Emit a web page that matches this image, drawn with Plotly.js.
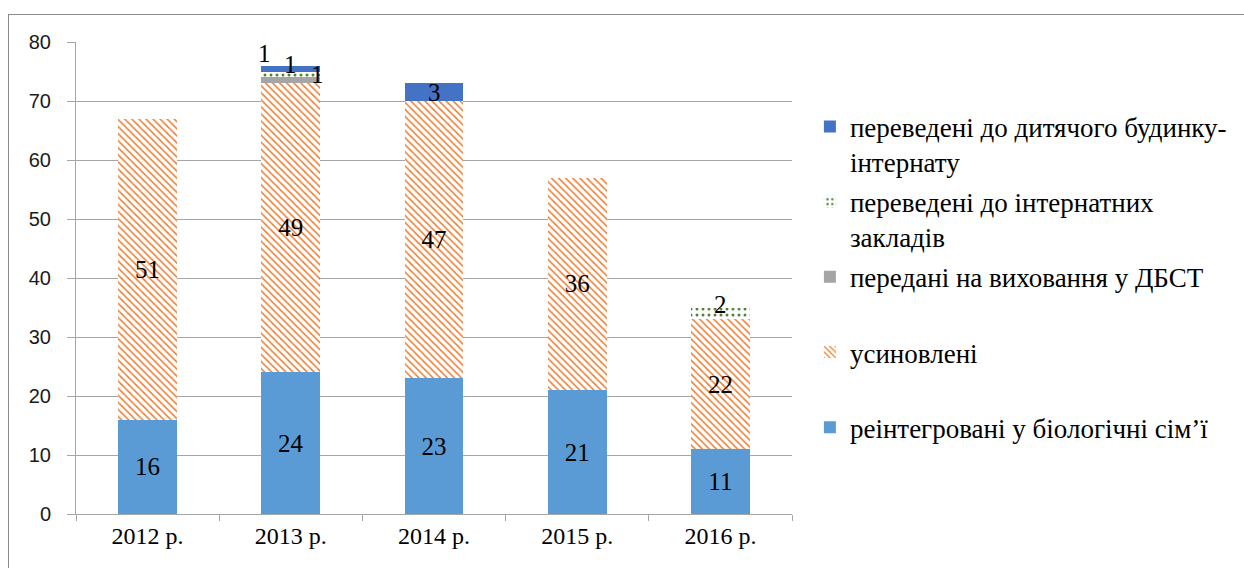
<!DOCTYPE html>
<html>
<head>
<meta charset="utf-8">
<script src="https://cdn.plot.ly/plotly-3.0.1.min.js"></script>
<style>
  html, body { margin: 0; padding: 0; background: #fff; }
  #wrap { position: relative; width: 1244px; height: 568px; overflow: hidden; }
  #chart { width: 1244px; height: 568px; }
  #frame { position: absolute; left: 8px; top: 14px; width: 1300px; height: 600px;
           border: 1px solid #8c8c8c; pointer-events: none; }
</style>
</head>
<body>
<div id="wrap">
  <div id="chart"></div>
  <div id="frame"></div>
</div>
<script>
const categories = ['2012 р.', '2013 р.', '2014 р.', '2015 р.', '2016 р.'];
const reintegrated = [16, 24, 23, 21, 11];
const adopted = [51, 49, 47, 36, 22];
const fosterDBST = [0, 1, 0, 0, 0];
const boardingSchools = [0, 1, 0, 0, 2];
const childrensHome = [0, 1, 3, 0, 0];

const NB = '\u00a0';
const names = {
  reint: 'реінтегровані у біологічні сім’ї<br>' + NB,
  adopt: 'усиновлені<br>' + NB,
  dbst: 'передані на виховання у ДБСТ<br>' + NB,
  board: 'переведені до інтернатних<br>закладів',
  home: 'переведені до дитячого будинку-<br>інтернату'
};

const serif = 'Liberation Serif';
const sans = 'Liberation Sans';
const lbl = v => v.map(x => x > 0 ? String(x) : '');

const traces = [
  { name: names.reint, y: reintegrated, marker: { color: '#5B9BD5' },
    text: lbl(reintegrated), textposition: 'inside', legendgroup: 'a', legendrank: 5 },
  { name: names.adopt, y: adopted,
    marker: { color: '#ffffff', pattern: { shape: '\\', fgcolor: '#ED7D31', bgcolor: '#ffffff', size: 5, solidity: 0.3 } },
    text: lbl(adopted), textposition: 'inside', legendgroup: 'b', legendrank: 4 },
  { name: names.dbst, y: fosterDBST, marker: { color: '#A5A5A5' }, textposition: 'none', legendgroup: 'c', legendrank: 3 },
  { name: names.board, y: boardingSchools,
    marker: { color: '#ffffff', pattern: { shape: '.', fgcolor: '#548235', bgcolor: '#ffffff', size: 6, solidity: 0.2 } },
    textposition: 'none', legendgroup: 'd', legendrank: 2 },
  { name: names.home, y: childrensHome, marker: { color: '#4472C4' }, textposition: 'none', legendgroup: 'e', legendrank: 1 }
].map(t => Object.assign({
  type: 'bar', x: categories, insidetextanchor: 'middle', textangle: 0, constraintext: 'none',
  insidetextfont: { family: serif, size: 25, color: '#000' }, hoverinfo: 'skip'
}, t));

// annotations for thin segments, positioned from cumulative data
const smallSeries = [fosterDBST, boardingSchools, childrensHome];
const shifts = [
  [[0,0],[27,6],[0,0],[0,0],[0,0]],
  [[0,0],[0,10],[0,0],[0,0],[0,9]],
  [[0,0],[-26,15],[0,0],[0,0],[0,0]]
];
const annotations = [];
categories.forEach((c, i) => {
  let base = reintegrated[i] + adopted[i];
  smallSeries.forEach((s, k) => {
    const v = s[i];
    if (v > 0) {
      annotations.push({ x: c, y: base + v / 2, text: String(v), showarrow: false,
        xshift: shifts[k][i][0], yshift: shifts[k][i][1],
        font: { family: serif, size: 25, color: '#000' } });
    }
    base += v;
  });
});

const layout = {
  width: 1244, height: 568,
  margin: { l: 76, r: 452, t: 42, b: 54 },
  barmode: 'stack', bargap: 0.59,
  paper_bgcolor: '#fff', plot_bgcolor: '#fff',
  showlegend: true,
  font: { family: serif },
  legend: { x: 1.025, y: 0.872, xanchor: 'left', yanchor: 'top', traceorder: 'grouped',
    valign: 'top', tracegroupgap: 2, font: { family: serif, size: 27, color: '#000' },
    itemwidth: 30, bgcolor: 'rgba(0,0,0,0)' },
  xaxis: { type: 'category', showline: true, linecolor: '#a6a6a6', linewidth: 1,
    ticks: 'outside', tickson: 'boundaries', ticklen: 6, tickcolor: '#a6a6a6',
    tickfont: { family: serif, size: 24, color: '#000' }, showgrid: false, fixedrange: true },
  yaxis: { range: [0, 80], dtick: 10, showline: true, linecolor: '#a6a6a6', linewidth: 1,
    ticks: 'outside', ticklen: 8, tickcolor: '#a6a6a6', gridcolor: '#a6a6a6', gridwidth: 1,
    zeroline: false, tickfont: { family: sans, size: 20, color: '#1a1a1a' },
    ticklabelstandoff: 12, fixedrange: true },
  annotations: annotations
};

Plotly.newPlot('chart', traces, layout, { displayModeBar: false, staticPlot: true });
</script>
</body>
</html>
